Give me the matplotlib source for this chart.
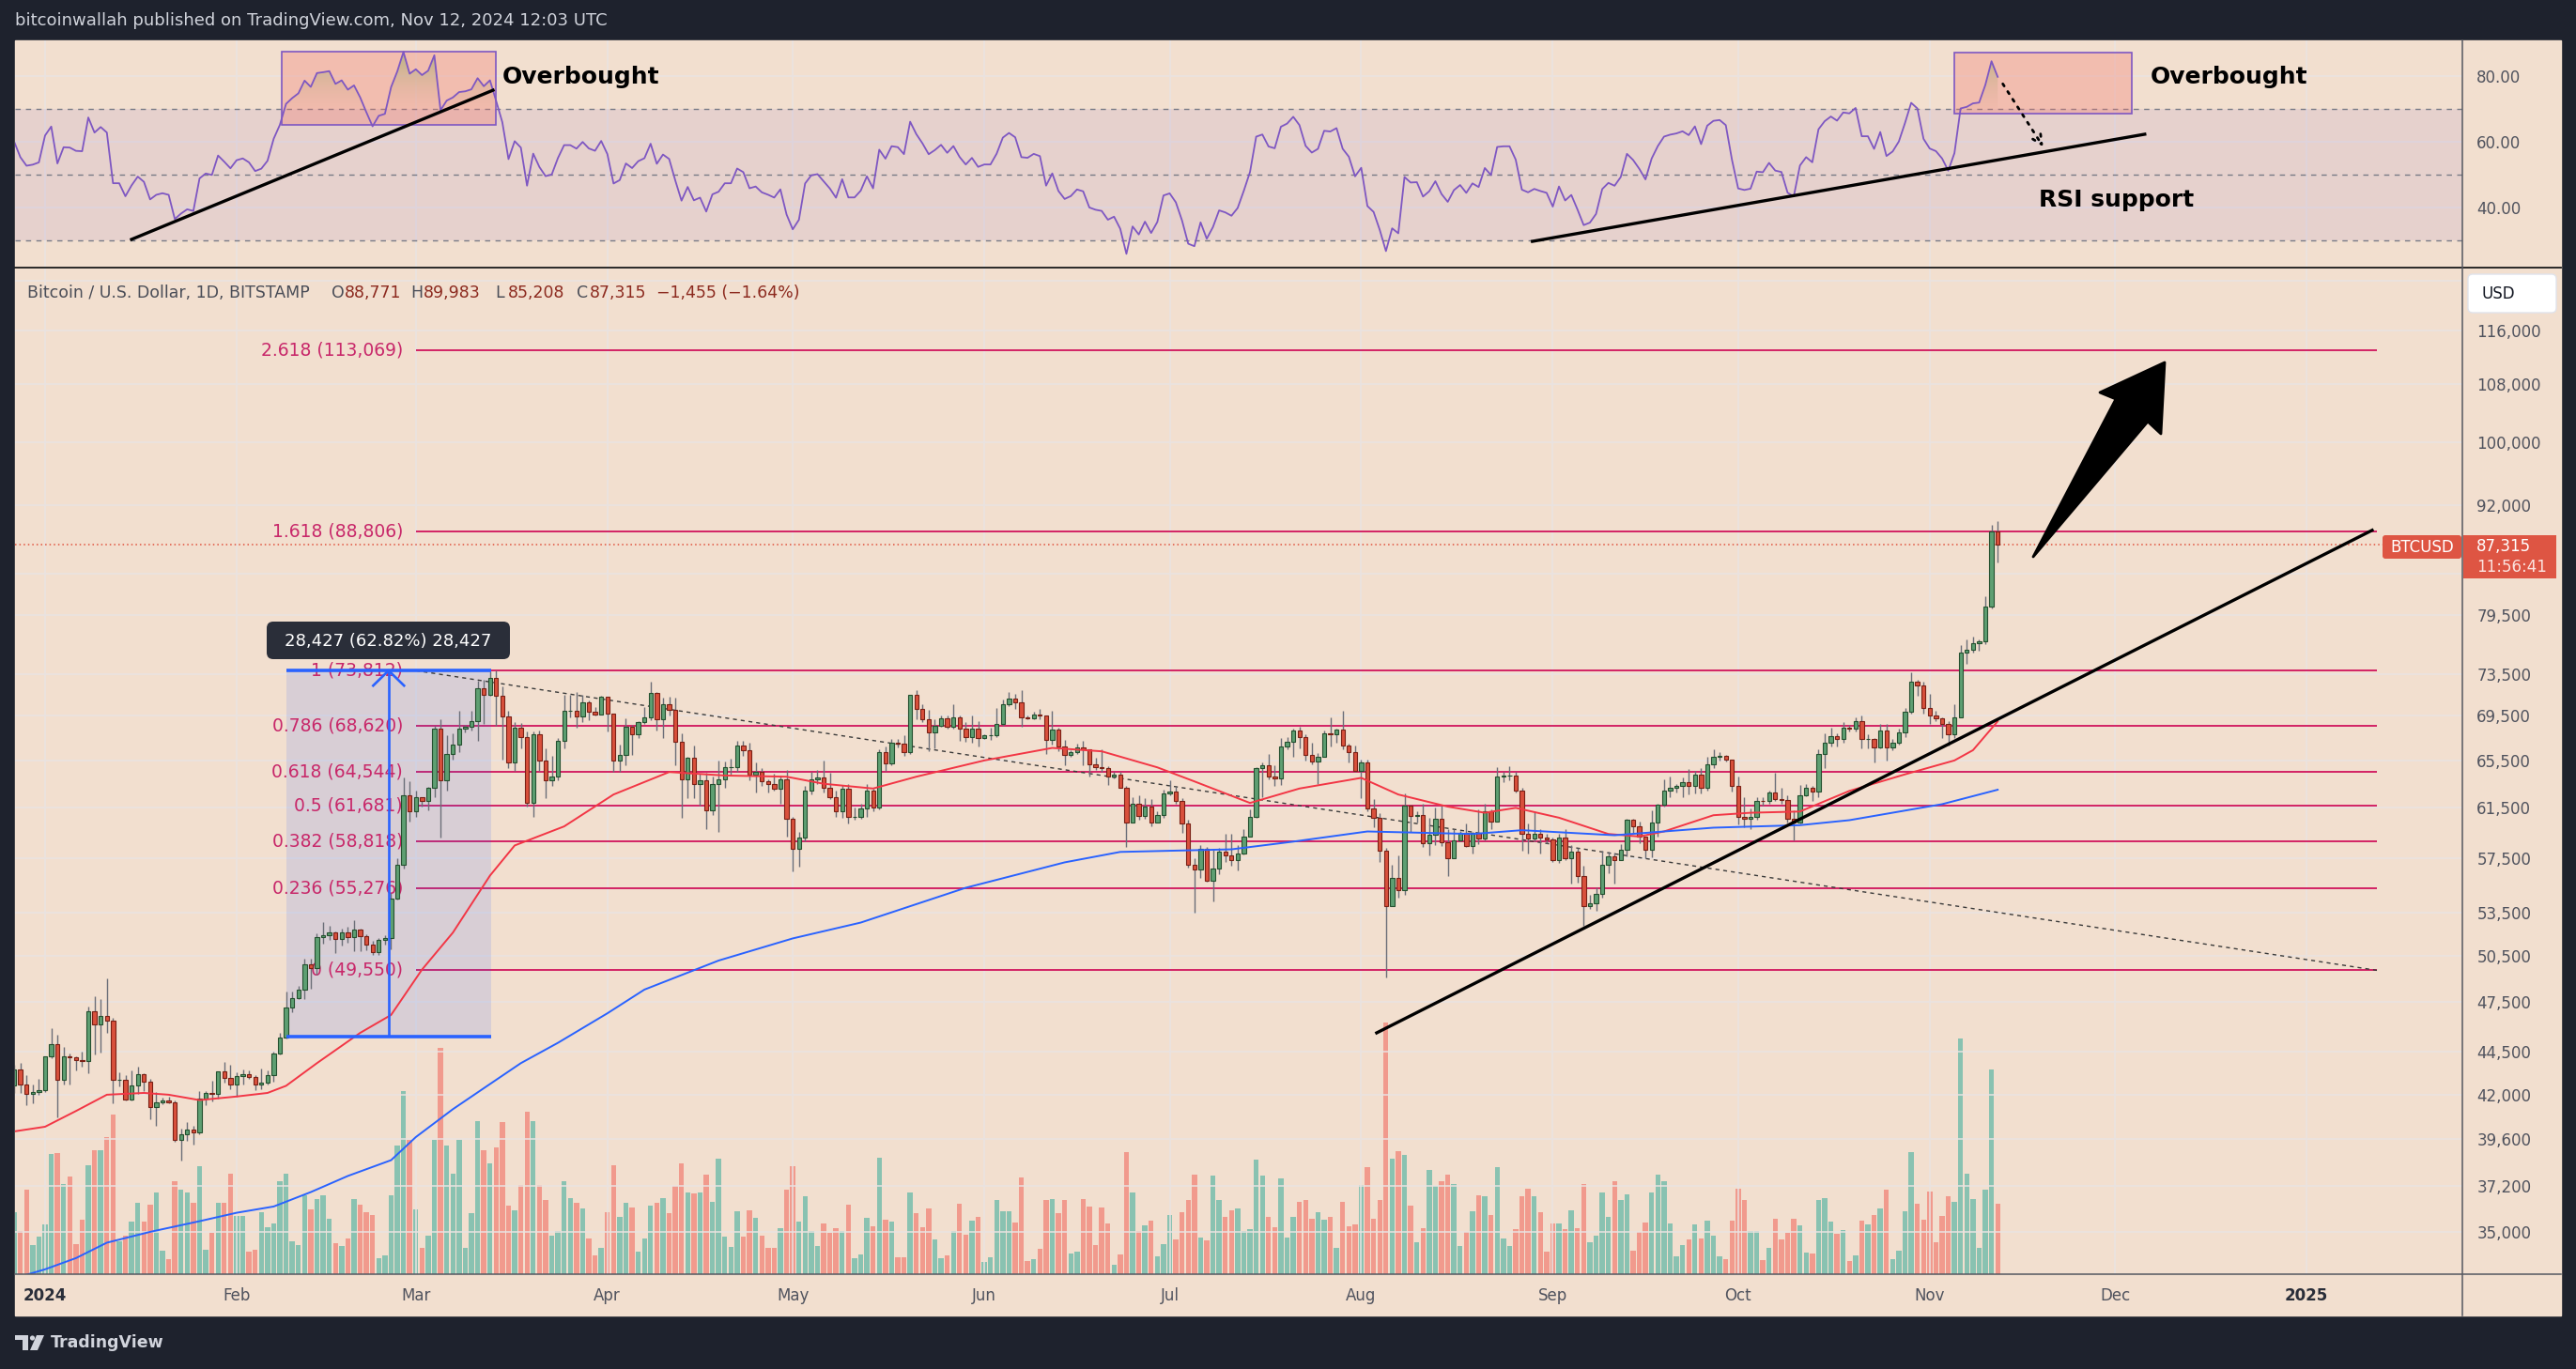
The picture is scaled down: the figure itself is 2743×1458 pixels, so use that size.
import matplotlib.pyplot as plt
import numpy as np
from matplotlib.patches import Rectangle, FancyBboxPatch, Polygon
from matplotlib.path import Path
from matplotlib.ticker import NullLocator, NullFormatter

# BTCUSD daily candles (thousands of USD), Dec 27 2023 .. Nov 12 2024
# warm-up closes Dec 1..26 2023 (only used for the RSI)
warm_close = "38.70 39.45 39.97 41.98 44.08 43.77 43.29 44.17 43.72 43.79 41.24 41.48 42.88 43.02 41.94 42.26 41.36 42.66 42.27 43.66 43.86 43.99 43.74 43.01 43.58 42.52"

close_dec = "43.45 42.58 42.07 42.14 42.28"
close_jan = "44.18 44.95 42.85 44.18 44.16 43.97 43.95 46.95 46.10 46.65 46.35 42.85 42.85 41.73 42.50 43.15 42.75 41.30 41.60 41.70 41.58 39.55 39.85 40.08 39.95 41.80 42.12 42.03 43.30 42.95 42.58"
close_feb = "43.08 43.19 43.00 42.58 42.70 43.09 44.34 45.30 47.15 47.77 48.30 49.95 49.70 51.80 51.95 52.13 51.65 52.12 51.78 52.28 51.85 51.30 50.75 51.57 51.73 54.50 57.05 62.50 61.20"
close_mar = "62.40 62.05 63.15 68.30 63.80 66.10 66.90 68.30 68.50 69.00 72.10 71.45 73.10 71.40 69.45 65.30 68.40 67.60 61.90 67.85 65.50 63.80 64.10 67.20 69.95 69.95 69.45 70.75 69.90 69.60 71.30"
close_apr = "69.70 65.45 65.95 68.50 67.85 68.90 69.35 71.65 69.15 70.60 70.05 67.15 63.90 65.75 63.45 63.80 61.30 63.50 63.85 64.95 64.95 66.85 66.40 64.30 64.50 63.75 63.45 63.10 63.85 60.65"
close_may = "58.25 59.10 62.90 63.90 64.05 63.20 62.35 61.20 63.10 60.80 60.80 61.45 62.90 61.55 66.25 65.25 67.05 66.95 66.25 71.45 70.15 69.15 67.95 68.55 69.30 68.50 69.40 68.35 67.60 68.35 67.50"
close_jun = "67.75 67.75 68.80 70.55 71.10 70.80 69.35 69.30 69.65 69.50 67.30 68.25 66.75 66.00 66.20 66.65 66.50 65.15 64.95 64.85 64.10 64.25 63.20 60.30 61.80 60.85 61.60 60.30 60.95 62.70"
close_jul = "62.85 62.05 60.20 57.05 56.65 58.25 55.85 56.70 58.00 57.75 57.35 57.90 59.20 60.80 64.80 65.10 64.10 63.95 66.70 67.15 68.15 67.55 65.95 65.40 65.80 67.90 67.85 68.25 66.80 66.20 64.60"
close_aug = "65.35 61.45 60.70 58.10 54.00 56.05 55.10 61.70 60.85 60.90 58.70 59.35 60.60 58.75 57.55 58.90 59.50 58.45 59.50 59.05 61.20 60.40 64.10 64.20 64.20 62.90 59.40 59.05 59.40 59.15 58.95"
close_sep = "57.35 59.15 57.50 58.00 56.20 53.95 54.15 54.85 57.05 57.65 57.35 58.15 60.55 60.00 59.20 58.20 60.30 61.75 62.95 63.20 63.35 63.60 63.35 64.30 63.15 65.20 65.80 65.90 65.60 63.30"
close_oct = "60.80 60.65 60.75 62.10 62.05 62.80 62.25 62.15 60.60 60.30 62.50 63.20 62.85 66.05 67.05 67.65 67.40 68.40 68.35 69.00 67.40 67.40 66.65 68.20 66.65 67.05 67.95 69.90 72.70 72.35 70.25"
close_nov = "69.50 69.30 68.75 67.80 69.40 75.60 75.90 76.55 76.70 80.40 88.771 87.315"

high_dec = "43.68 43.80 43.12 42.60 42.90"
high_jan = "44.20 45.90 45.50 44.75 44.35 44.20 44.50 47.20 47.90 47.70 49.00 46.50 43.25 43.10 43.40 43.58 43.20 42.90 42.15 41.85 41.90 41.70 40.15 40.50 40.30 42.20 42.20 42.80 43.35 43.85 43.70"
high_feb = "43.25 43.45 43.38 43.10 43.50 43.40 44.45 45.60 48.20 48.15 48.55 50.30 50.35 52.05 52.85 52.55 52.20 52.35 52.50 52.95 52.35 52.00 51.55 51.70 51.95 54.90 57.55 64.00 63.70"
high_mar = "62.95 62.40 63.25 68.60 69.20 67.70 67.90 69.95 68.65 70.00 72.80 72.95 73.70 73.81 72.30 70.00 68.90 68.85 68.10 68.10 68.20 66.60 65.90 67.45 71.50 71.50 71.70 71.50 70.90 70.30 71.35"
high_apr = "71.30 69.70 66.90 69.30 68.70 69.00 70.30 72.70 71.75 71.20 71.25 71.20 67.90 65.80 66.85 64.35 64.45 64.10 65.45 65.40 65.65 67.20 67.20 67.05 65.30 64.80 63.90 64.35 64.20 64.70"
high_may = "60.80 59.60 63.30 64.50 64.65 65.50 64.40 62.95 63.40 63.45 61.50 61.80 63.45 63.10 66.45 66.70 67.40 67.40 67.70 71.50 71.95 70.60 70.10 69.20 69.50 69.50 70.60 69.50 68.90 69.50 69.00"
high_jun = "67.85 68.40 70.25 71.05 71.75 71.60 71.95 69.55 69.90 70.15 69.55 70.00 68.40 67.30 66.40 66.95 67.20 66.50 65.70 66.45 65.00 64.50 64.50 63.35 62.35 62.50 62.30 62.20 61.20 63.00"
high_jul = "63.80 63.25 62.30 60.50 57.50 58.50 58.40 58.20 58.30 59.40 59.40 58.50 59.80 61.35 64.90 65.35 66.10 65.10 67.45 67.60 68.35 68.50 67.80 67.10 66.15 68.20 69.40 68.30 70.00 67.00 66.80"
high_aug = "65.60 65.60 62.20 61.10 58.30 57.00 57.70 62.70 61.75 61.20 61.80 60.70 61.50 61.70 59.80 59.80 59.65 60.20 59.60 61.40 61.80 61.40 64.90 64.50 65.00 64.50 63.20 60.20 61.20 59.80 59.40"
high_sep = "59.10 59.40 59.80 58.50 58.30 56.95 54.80 55.30 58.10 58.05 57.95 58.60 60.65 60.65 60.40 59.20 61.30 61.80 63.85 64.10 63.50 64.00 64.75 64.60 64.80 65.80 66.50 66.25 65.95 65.60"
high_oct = "64.10 62.40 61.45 62.40 62.40 62.95 64.45 63.20 62.50 61.30 63.40 63.45 63.30 66.50 67.90 68.40 67.90 68.95 68.70 69.40 69.50 67.80 67.50 68.80 68.75 67.40 68.30 70.25 73.60 72.95 72.70"
high_nov = "71.60 70.00 69.40 69.00 70.55 76.40 76.90 77.20 76.90 81.50 89.60 89.983"

low_dec = "42.10 42.10 41.42 41.52 41.97"
low_jan = "42.15 44.10 40.75 42.60 42.60 43.40 43.60 43.20 44.30 44.40 45.60 41.50 42.45 41.70 41.70 42.05 42.20 40.65 40.30 41.45 41.50 39.45 38.50 39.50 39.30 39.85 41.40 41.65 41.80 42.70 42.30"
low_feb = "41.90 42.60 42.90 42.25 42.30 42.60 42.75 44.30 45.25 46.85 47.70 47.70 48.35 49.25 51.35 51.60 50.70 51.20 51.40 50.80 50.80 50.90 50.55 50.60 51.30 50.95 54.45 56.70 60.40"
low_mar = "60.80 61.60 61.30 62.40 59.10 62.90 65.60 66.20 68.00 68.20 67.20 68.80 71.35 68.60 65.60 64.80 64.60 66.60 61.60 60.80 64.60 62.30 63.30 63.80 66.60 69.40 68.40 68.90 69.10 69.50 69.60"
low_apr = "68.10 64.50 64.50 65.10 66.00 67.45 68.80 69.10 68.20 67.50 69.55 65.10 60.70 62.30 62.30 61.70 59.80 60.90 59.60 63.15 64.30 64.50 65.90 63.80 62.80 63.30 62.80 62.90 61.80 59.20"
low_may = "56.55 56.90 58.80 62.60 63.50 62.75 62.20 60.80 60.70 60.20 60.50 60.65 60.80 61.20 61.35 64.60 65.10 66.65 65.90 66.10 69.20 68.90 66.30 66.60 68.50 68.30 68.30 67.20 67.15 67.10 66.70"
low_jun = "67.40 67.30 67.60 68.55 70.40 70.15 68.50 69.20 69.15 69.20 66.10 66.90 66.30 65.10 65.85 66.05 65.10 64.10 64.70 64.50 63.40 63.95 63.20 58.40 60.30 60.50 60.65 60.00 60.30 60.70"
low_jul = "62.50 61.80 59.50 56.80 53.50 56.00 55.75 54.30 56.30 57.20 56.95 56.60 57.80 59.20 60.70 62.40 63.90 63.30 63.40 66.50 65.80 66.60 65.50 65.20 63.50 65.80 66.70 67.10 66.50 65.30 64.50"
low_aug = "62.30 61.20 59.90 57.20 49.10 54.00 54.60 54.80 59.60 60.30 58.40 57.70 58.50 58.45 56.20 57.80 58.80 58.40 57.90 58.60 58.90 59.80 60.40 63.60 63.80 62.80 58.10 57.90 58.80 57.90 58.70"
low_sep = "57.20 57.15 57.40 55.60 55.70 52.55 53.80 53.65 54.60 56.40 55.60 57.35 57.65 59.50 58.70 57.50 57.60 59.20 61.60 62.40 62.80 62.40 62.60 62.70 62.70 62.90 64.80 65.45 65.40 62.85"
low_oct = "60.15 59.95 59.80 60.50 61.70 61.80 62.10 61.85 60.30 58.90 60.25 62.45 62.05 62.40 64.80 66.70 66.70 67.10 68.10 68.10 66.60 66.60 65.30 66.60 65.50 66.40 66.90 67.60 69.70 71.40 69.70"
low_nov = "68.80 69.00 67.50 66.80 67.50 69.35 74.50 75.60 75.80 76.50 80.20 85.208"

# volume, relative units (Aug 5 = 100)
vol_dec = "24.8 17 33.5 11.6 14.8"
vol_jan = "19.8 47.9 48.3 35.8 38.8 12 21.6 43.3 49.1 49.1 54.4 63.5 12.9 15.4 20.8 28.3 20.8 27.5 32.3 9.4 6 37.1 33.4 32.3 28.3 42.8 9.8 16.6 28.3 28.3 40.1"
vol_feb = "23.1 23.1 9.1 9.8 24.8 18.8 20.1 37 39.8 13.1 11.6 31.5 25.9 30 31.5 21.9 12.5 11.3 14 30 27.5 24.8 23.5 6.5 7.5 31.5 51 72.8 53.5"
vol_mar = "25.9 10.6 15.4 53.5 89.8 51.3 40.1 53.5 10.3 24.4 61 49.1 44.1 50.3 60.3 27.1 25.3 35.3 64.5 60.8 35.6 29.6 15.3 17.3 37 30.3 28.5 26.3 14 7.6 10.6"
vol_apr = "24.8 43.1 22.9 28.5 26.6 9 14 27.3 28.5 30.4 24.1 35 44.1 32.6 32 32.6 39.4 28.9 45.8 14.8 11 25 14.8 25.4 22.5 15.3 10.6 10.3 18.4 33.4"
vol_may = "42.8 21 31.1 17.3 11.3 20.3 16.5 18.3 17 27.5 6.5 7.9 22.5 19.1 46.1 21.5 21 6.9 6.9 32.6 24.1 18.8 26.3 13.9 6.4 7.5 17.3 27.8 15.8 21.4 22.9"
vol_jun = "4.9 6.8 29.3 25.1 25.1 20.6 38.3 5.3 6 10.1 29.6 30 24.4 29.3 8.3 9 30 27 11.6 26.6 20.3 3.8 7.9 48.4 32.6 17.3 19.5 21.4 7.1 12"
vol_jul = "23.6 13.9 24.8 29.6 39.4 14.6 13.5 39 29.3 22.9 25.5 26.3 17.3 18 45.4 39 22.9 18.8 37.9 14.6 22.9 28.9 29.6 22.1 24.8 21.8 22.9 10.5 28.9 19.1 19.9"
vol_aug = "35.3 42.4 22.1 29.3 100 45.8 48.8 47.3 27.4 12.8 18.4 41.6 34.9 36.8 39.4 36 11.3 16.9 25.1 31.5 30.8 23.6 42.4 14.3 11.3 18 31.1 33.8 30.8 24.8 9"
vol_sep = "20.3 20.3 18 25.5 18.4 36 12.8 15.4 32.3 22.9 36.8 29.3 31.9 9.4 16.9 20.6 32.6 39.4 37.1 20.3 7.1 11.6 13.9 19.9 14.3 21.4 15.4 7.1 6 21.4"
vol_oct = "34.1 29.6 17.3 17.3 5.6 10.5 22.1 13.9 16.5 22.1 19.5 8.6 8.3 29.3 30.4 21 16.1 17.6 5.3 7.5 21.4 19.9 23.6 26.3 33.4 6 9.4 25.1 48.4 27.8 21.8"
vol_nov = "33 12.8 23.3 31.1 28.9 93.8 39.8 30 10.5 33.4 81.4 27.8"

# moving averages (day index, thousands USD); day 0 = Jan 1 2024
sma50_day = [-5, 0, 5, 10, 16, 20, 25, 31, 36, 39, 44, 51, 56, 61, 66, 72, 76, 84, 92, 101,
             110, 120, 126, 134, 141, 152, 163, 171, 180, 186, 195, 203, 213, 219, 227, 233,
             238, 245, 253, 258, 262, 270, 276, 284, 292, 301, 309, 312, 316]
sma50_val = [40.0, 40.25, 41.1, 42.0, 42.1, 42.0, 41.7, 41.9, 42.1, 42.5, 43.8, 45.6, 46.7, 49.6,
             52.1, 56.2, 58.5, 60.0, 62.6, 64.5, 64.2, 64.1, 63.5, 63.1, 64.1, 65.5, 66.6, 66.3,
             64.9, 63.7, 61.9, 63.1, 64.0, 62.6, 61.6, 61.1, 61.5, 60.7, 59.4, 59.2, 59.6, 60.9,
             61.1, 61.2, 62.9, 64.3, 65.5, 66.4, 69.0]
sma200_day = [-5, 0, 5, 10, 17, 25, 31, 37, 43, 49, 56, 60, 66, 72, 77, 83, 91, 97, 109, 121,
              132, 149, 165, 174, 192, 202, 214, 231, 239, 254, 270, 284, 292, 307, 316]
sma200_val = [32.9, 33.3, 33.8, 34.5, 35.0, 35.5, 35.9, 36.2, 36.9, 37.7, 38.5, 39.7, 41.2, 42.6,
              43.8, 45.0, 46.8, 48.3, 50.2, 51.7, 52.8, 55.3, 57.2, 58.0, 58.2, 58.8, 59.6, 59.4,
              59.7, 59.3, 59.9, 60.1, 60.5, 61.8, 63.0]

fib_ratio = ["0", "0.236", "0.382", "0.5", "0.618", "0.786", "1", "1.618", "2.618"]
fib_price = [49550, 55276, 58818, 61681, 64544, 68620, 73812, 88806, 113069]

price_ticks = [124000, 116000, 108000, 100000, 92000, 84000, 79500, 73500, 69500, 65500,
               61500, 57500, 53500, 50500, 47500, 44500, 42000, 39600, 37200, 35000]
hidden_ticks = [124000, 84000]   # covered by the USD / last-price boxes
month_day = [0, 31, 60, 91, 121, 152, 182, 213, 244, 274, 305, 335, 366]
month_lbl = ["2024", "Feb", "Mar", "Apr", "May", "Jun", "Jul", "Aug", "Sep", "Oct", "Nov", "Dec", "2025"]


def parse(*parts):
    return np.array([float(v) for p in parts for v in p.split()])


months = ["dec", "jan", "feb", "mar", "apr", "may", "jun", "jul", "aug", "sep", "oct", "nov"]
close = parse(*[globals()["close_" + m] for m in months])
high = parse(*[globals()["high_" + m] for m in months])
low = parse(*[globals()["low_" + m] for m in months])
vol = parse(*[globals()["vol_" + m] for m in months])
warm = parse(warm_close)
opens = np.concatenate([[warm[-1]], close[:-1]])
high = np.maximum(high, np.maximum(opens, close))
low = np.minimum(low, np.minimum(opens, close))
days = np.arange(-5, -5 + len(close))

# RSI 14 (Wilder)
allc = np.concatenate([warm, close])
delta = np.diff(allc)
gain = np.clip(delta, 0, None)
loss = np.clip(-delta, 0, None)
rsi = np.full(len(allc), np.nan)
ag, al = gain[:14].mean(), loss[:14].mean()
rsi[14] = 100 - 100 / (1 + ag / al)
for i in range(15, len(allc)):
    ag = (ag * 13 + gain[i - 1]) / 14
    al = (al * 13 + loss[i - 1]) / 14
    rsi[i] = 100 - 100 / (1 + ag / al)
rsi = rsi[len(warm):]

# colours
BG = "#f2dfcf"
DARK = "#1e222d"
GRID = "#e9e3e2"
GREEN, GREEN_E = "#5e9f72", "#24502f"
RED, RED_E = "#d9503c", "#7a2015"
VGREEN, VRED = "#89c2b1", "#f19a8d"
FIB = "#d0145c"
BLUE = "#2962ff"
TXT = "#50535e"

W, H = 2743, 1458
fig = plt.figure(figsize=(W / 100, H / 100), dpi=100, facecolor=DARK)


def box(x0, y0, x1, y1):
    return [x0 / W, 1 - y1 / H, (x1 - x0) / W, (y1 - y0) / H]


fig.add_artist(Rectangle((16 / W, 1 - 1401 / H), (2727 - 16) / W, (1401 - 43) / H,
                         transform=fig.transFigure, color=BG, zorder=-1))

XL = (-4.86, 391.2)

# ---------------- RSI panel ----------------
ax_r = fig.add_axes(box(16, 43, 2622, 285))
ax_r.set_facecolor("none")
ax_r.axhspan(30, 70, color="#7e57c2", alpha=0.1, lw=0, zorder=0.6)
for lvl in (70, 50, 30):
    ax_r.axhline(lvl, color="#787b86", ls=(0, (4, 4)), lw=1, zorder=0.8)
for (x0, x1, y0, y1) in [(38.3, 72.9, 65.1, 87.3), (309.0, 337.7, 68.6, 87.1)]:
    ax_r.add_patch(Rectangle((x0, y0), x1 - x0, y1 - y0, facecolor=(0.95, 0.47, 0.43, 0.33),
                             edgecolor="#7e57c2", lw=1.2, zorder=2))
fill = ax_r.fill_between(days, 70, rsi, where=rsi > 70, interpolate=True, color="none")
grad = np.zeros((100, 1, 4))
t = np.linspace(0, 1, 100)
grad[:, 0, 0] = 0.90 - 0.38 * t
grad[:, 0, 1] = 0.66 + 0.04 * t
grad[:, 0, 2] = 0.60 - 0.22 * t
grad[:, 0, 3] = 0.10 + 0.65 * t
im = ax_r.imshow(grad, extent=[XL[0], XL[1], 70, 90.86], origin="lower", aspect="auto", zorder=2.5)
im.set_clip_path(Path.make_compound_path(*fill.get_paths()), ax_r.transData)
ax_r.set_xlim(*XL)
ax_r.set_ylim(21.71, 90.86)
ax_r.plot(days, rsi, color="#7e57c2", lw=1.3, zorder=3)
ax_r.plot([14, 72.5], [30.3, 75.7], color="black", lw=2.4, zorder=4)
ax_r.plot([240.7, 339.8], [29.7, 62.3], color="black", lw=2.4, zorder=4)
ax_r.annotate("", xy=(323.6, 57.8), xytext=(316.6, 78.3),
              arrowprops=dict(arrowstyle="->", ls=(0, (1, 2.5)), lw=2, color="black",
                              mutation_scale=18), zorder=4)
ax_r.yaxis.tick_right()
ax_r.set_yticks([40, 60, 80])
ax_r.set_yticklabels(["40.00", "60.00", "80.00"])
ax_r.set_xticks(month_day)
ax_r.tick_params(axis="y", length=0, pad=11, labelsize=12, labelcolor=TXT)
ax_r.tick_params(axis="x", length=0, labelbottom=False)
ax_r.grid(True, color=GRID, lw=1.1, zorder=0.5)
ax_r.set_axisbelow(True)
for s in ax_r.spines.values():
    s.set_visible(False)

# ---------------- volume (behind price) ----------------
ax_v = fig.add_axes(box(16, 285, 2622, 1357))
ax_v.set_facecolor("none")
upv = close >= opens
ax_v.bar(days, vol, width=0.82, color=np.where(upv, VGREEN, VRED), lw=0)
ax_v.set_xlim(*XL)
ax_v.set_ylim(0, 400)
ax_v.axis("off")

# ---------------- price panel ----------------
ax = fig.add_axes(box(16, 285, 2622, 1357))
ax.set_facecolor("none")
ax.set_yscale("log")
ax.set_xlim(*XL)
ax.set_ylim(33.086, 126.12)
ax.yaxis.tick_right()
ax.yaxis.set_minor_locator(NullLocator())
ax.yaxis.set_minor_formatter(NullFormatter())
ax.set_yticks([p / 1000 for p in price_ticks])
ax.set_yticklabels(["" if p in hidden_ticks else f"{p:,}" for p in price_ticks])
ax.set_xticks(month_day)
ax.set_xticklabels(month_lbl)
ax.tick_params(axis="y", length=0, pad=11, labelsize=12, labelcolor=TXT)
ax.tick_params(axis="x", length=0, pad=10, labelsize=12, labelcolor=TXT)
for lab in ax.get_xticklabels():
    if lab.get_text() in ("2024", "2025"):
        lab.set_fontweight("bold")
        lab.set_color("#2a2e39")
ax.grid(True, color=GRID, lw=1.1, zorder=0.5)
ax.set_axisbelow(True)
for s in ax.spines.values():
    s.set_visible(False)

# fib levels
for r, p in zip(fib_ratio, fib_price):
    ax.hlines(p / 1000, 60, 377.4, color=FIB, lw=1.3, zorder=1)
    ax.text(57.9, p / 1000, f"{r} ({p:,})", ha="right", va="center", color="#c8286a",
            fontsize=13.5, zorder=1.5)

# measure tool box
m_lo, m_hi = 45.385, 73.812
ax.add_patch(Rectangle((39.06, m_lo), 72.2 - 39.06, m_hi - m_lo, facecolor=BLUE, alpha=0.13,
                       lw=0, zorder=1.2))

# descending dashed trendline
ax.plot([60, 377.4], [73.812, 49.55], color="#3a3a3a", ls=(0, (3, 3)), lw=1, zorder=2)

# current price line
ax.axhline(87.315, color="#e0533f", ls=(0, (1, 2)), lw=1.1, zorder=2)

# candles
up = close >= opens
blo = np.minimum(opens, close)
bhi = np.maximum(opens, close)
ax.vlines(days, low, high, color="#6b6e78", lw=1, zorder=3)
ax.bar(days[up], (bhi - blo)[up], bottom=blo[up], width=0.66, color=GREEN, edgecolor=GREEN_E,
       lw=0.8, zorder=4)
ax.bar(days[~up], (bhi - blo)[~up], bottom=blo[~up], width=0.66, color=RED, edgecolor=RED_E,
       lw=0.8, zorder=4)

# moving averages
ax.plot(sma50_day, sma50_val, color="#f23645", lw=1.4, zorder=5)
ax.plot(sma200_day, sma200_val, color=BLUE, lw=1.4, zorder=5)

# measure tool lines
ax.hlines([m_lo, m_hi], 39.06, 72.2, color=BLUE, lw=2.6, zorder=6)
ax.vlines(55.6, m_lo, m_hi, color=BLUE, lw=1.9, zorder=6)
ax.plot([53.1, 55.6, 58.1], [72.35, m_hi, 72.35], color=BLUE, lw=1.9, zorder=6)

# rising black trendline
ax.plot([215.5, 376.6], [45.6, 88.95], color="black", lw=2.4, zorder=6)

# ---------------- overlay in pixel coords ----------------
ov = fig.add_axes([0, 0, 1, 1], zorder=10)
ov.set_xlim(0, W)
ov.set_ylim(H, 0)
ov.axis("off")

ov.text(16, 22, "bitcoinwallah published on TradingView.com, Nov 12, 2024 12:03 UTC",
        color="#d1d4dc", fontsize=13, va="center")

# panel borders
ov.plot([16, 2727], [285, 285], color="#1a1a1a", lw=1.3)
ov.plot([16, 2727], [1357, 1357], color="#555861", lw=1.1)
ov.plot([2622, 2622], [43, 1401], color="#555861", lw=1.1)

# legend line
ov.text(29, 312, "Bitcoin / U.S. Dollar, 1D, BITSTAMP", color="#4a4d57", fontsize=12.5, va="center")
for lx, letter, val in [(353, "O", "88,771"), (437, "H", "89,983"), (527, "L", "85,208"),
                        (614, "C", "87,315")]:
    ov.text(lx, 312, letter, color="#4a4d57", fontsize=12.5, va="center")
    ov.text(lx + 14, 312, val, color="#8c2a1f", fontsize=12.5, va="center")
ov.text(699, 312, "\u22121,455 (\u22121.64%)", color="#8c2a1f", fontsize=12.5, va="center")

# RSI annotations
ov.text(535, 82, "Overbought", fontsize=18, fontweight="bold", color="black", va="center")
ov.text(2290, 82, "Overbought", fontsize=18, fontweight="bold", color="black", va="center")
ov.text(2171, 213, "RSI support", fontsize=18, fontweight="bold", color="black", va="center")

# measure tooltip
ov.add_patch(FancyBboxPatch((284, 662), 259, 40, boxstyle="round,pad=0,rounding_size=7",
                            fc="#2a2e39", ec="none"))
ov.text(413.5, 683, "28,427 (62.82%) 28,427", color="white", fontsize=13, ha="center", va="center")

# big black arrow
ov.add_patch(Polygon([(2165, 593), (2253, 425), (2236, 418), (2305, 386), (2301, 462), (2287, 449)],
                     closed=True, fc="black", ec="black", lw=2, joinstyle="round"))

# USD box
ov.add_patch(FancyBboxPatch((2628, 292), 94, 41, boxstyle="round,pad=0,rounding_size=5",
                            fc="white", ec="#e0e3eb", lw=1))
ov.text(2643, 313, "USD", color="#131722", fontsize=12, va="center")

# price labels
ov.add_patch(FancyBboxPatch((2537, 570), 84, 25, boxstyle="round,pad=0,rounding_size=3",
                            fc="#de5543", ec="none"))
ov.text(2579, 583, "BTCUSD", color="white", fontsize=12, ha="center", va="center")
ov.add_patch(Rectangle((2623, 570), 99, 46, fc="#de5543", ec="none"))
ov.text(2637, 582, "87,315", color="white", fontsize=12, va="center")
ov.text(2637, 604, "11:56:41", color="#fbe3df", fontsize=12, va="center")

# footer logo
ov.add_patch(Rectangle((16, 1422), 14, 5, fc="#d1d4dc", ec="none"))
ov.add_patch(Rectangle((24, 1422), 6, 16, fc="#d1d4dc", ec="none"))
ov.add_patch(plt.Circle((34.5, 1425), 2.6, fc="#d1d4dc", ec="none"))
ov.add_patch(Polygon([(39, 1422), (47, 1422), (40, 1438), (32, 1438)], closed=True,
                     fc="#d1d4dc", ec="none"))
ov.text(54, 1430, "TradingView", color="#d1d4dc", fontsize=12.5, fontweight="bold", va="center")

fig.savefig("out.png", dpi=100, facecolor=fig.get_facecolor())
